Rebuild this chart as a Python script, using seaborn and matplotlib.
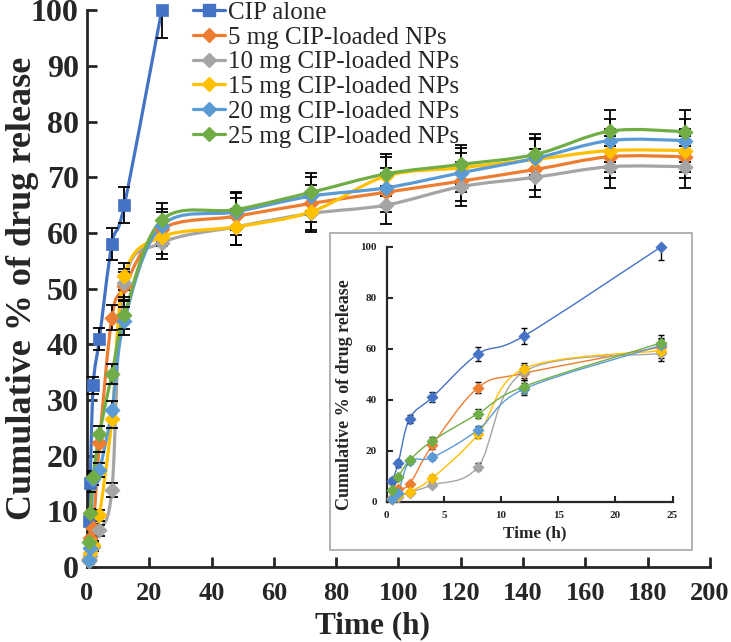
import numpy as np
import pandas as pd
import matplotlib
matplotlib.use("Agg")
import matplotlib.pyplot as plt
from matplotlib.path import Path
from matplotlib.patches import PathPatch, Rectangle
from matplotlib.lines import Line2D
import seaborn as sns

# ---------- data ----------
time_h = [0.5, 1, 2, 4, 8, 12, 24, 48, 72, 96, 120, 144, 168, 192]
series_names = ["CIP alone", "5 mg CIP-loaded NPs", "10 mg CIP-loaded NPs",
                "15 mg CIP-loaded NPs", "20 mg CIP-loaded NPs", "25 mg CIP-loaded NPs"]

cip_alone = [8.3, 15.0, 32.6, 41.0, 58.0, 65.0, 100.0]
cip_alone_err = [1.2, 1.5, 1.6, 2.0, 2.8, 3.2, 5.0]

np5 = [1.5, 5.1, 6.9, 22.2, 44.8, 50.4, 60.7, 63.0, 65.3, 67.3, 69.3, 71.4, 73.7, 73.7]
np10 = [1.0, 2.0, 3.6, 6.6, 13.8, 51.0, 58.2, 61.1, 63.5, 65.0, 68.3, 70.0, 71.9, 71.9]
np15 = [1.2, 2.5, 3.9, 9.3, 26.5, 52.2, 59.3, 61.1, 63.8, 70.2, 71.7, 73.2, 74.8, 74.8]
np20 = [1.2, 3.4, 15.8, 17.4, 28.2, 44.2, 61.3, 63.8, 66.6, 68.1, 70.8, 73.4, 76.6, 76.6]
np25 = [4.5, 9.6, 16.2, 23.9, 34.6, 45.2, 62.3, 64.2, 67.3, 70.6, 72.3, 74.1, 78.3, 78.2]

np5_err = [0.6, 0.8, 0.8, 1.5, 2.2, 2.5, 3.0, 3.3, 3.3, 3.5, 3.5, 3.7, 3.8, 3.8]
np10_err = [0.5, 0.6, 0.8, 1.0, 1.2, 2.5, 2.8, 3.2, 3.3, 3.4, 3.4, 3.6, 3.8, 3.8]
np15_err = [0.5, 0.6, 0.8, 1.0, 1.5, 2.4, 3.0, 3.2, 3.3, 3.5, 3.5, 3.6, 3.8, 3.8]
np20_err = [0.5, 0.8, 1.0, 1.2, 1.6, 2.5, 3.0, 3.3, 3.4, 3.5, 3.5, 3.7, 3.8, 3.8]
np25_err = [0.6, 0.8, 1.0, 1.5, 1.8, 2.5, 3.0, 3.2, 3.4, 3.5, 3.5, 3.7, 3.8, 3.8]

colors = ["#4472C4", "#ED7D31", "#A5A5A5", "#FFC000", "#5B9BD5", "#70AD47"]

# ---------- long table ----------
rows = []
all_vals = [cip_alone, np5, np10, np15, np20, np25]
all_errs = [cip_alone_err, np5_err, np10_err, np15_err, np20_err, np25_err]
for name, vals, errs in zip(series_names, all_vals, all_errs):
    for t, v, e in zip(time_h, vals, errs):
        rows.append({"series": name, "time": t, "release": v, "sd": e})
df = pd.DataFrame(rows)


def smooth_path(x, y):
    # excel-like smoothed line (catmull-rom as cubic bezier)
    pts = np.column_stack([np.asarray(x, float), np.asarray(y, float)])
    verts = [pts[0]]
    codes = [Path.MOVETO]
    n = len(pts)
    for i in range(n - 1):
        p0 = pts[i - 1] if i > 0 else pts[i]
        p1 = pts[i]
        p2 = pts[i + 1]
        p3 = pts[i + 2] if i + 2 < n else pts[i + 1]
        verts += [p1 + (p2 - p0) / 6.0, p2 - (p3 - p1) / 6.0, p2]
        codes += [Path.CURVE4] * 3
    return Path(verts, codes)


sns.set_style("ticks")
plt.rcParams["font.family"] = ["Liberation Serif", "DejaVu Serif"]

fig = plt.figure(figsize=(7.31, 6.42), dpi=100)
ax = fig.add_axes([0.119, 0.117, 0.852, 0.867])

# ---------- main chart ----------
for i, name in enumerate(series_names):
    d = df[df["series"] == name]
    ax.add_patch(PathPatch(smooth_path(d["time"], d["release"]), fill=False,
                           edgecolor=colors[i], lw=2.3, zorder=2, clip_on=False))
    ax.errorbar(d["time"], d["release"], yerr=d["sd"], fmt="none", ecolor="black",
                elinewidth=1.3, capsize=4, capthick=1.3, zorder=3)
    sns.scatterplot(x=d["time"], y=d["release"], ax=ax, color=colors[i],
                    marker="s" if i == 0 else "D", s=85 if i == 0 else 60,
                    edgecolor=colors[i], linewidth=0.5, zorder=4, clip_on=False,
                    legend=False)

ax.set_xlim(0, 200)
ax.set_ylim(0, 100)
ax.set_xticks(np.arange(0, 201, 20))
ax.set_yticks(np.arange(0, 101, 10))
sns.despine(ax=ax)
for sp in ["left", "bottom"]:
    ax.spines[sp].set_linewidth(2)
ax.tick_params(direction="in", length=7, width=2)
ax.tick_params(axis="x", labelsize=19, pad=11)
ax.tick_params(axis="y", labelsize=23, pad=6)
for lab in ax.get_xticklabels() + ax.get_yticklabels():
    lab.set_fontweight("bold")
ax.set_xlabel("Time (h)", fontsize=22.5, fontweight="bold", va="center")
ax.set_ylabel("Cumulative % of drug release", fontsize=26, fontweight="bold",
              va="center")
ax.xaxis.set_label_coords(0.459, -0.105)
ax.yaxis.set_label_coords(-0.104, 0.5)

handles = [Line2D([0], [0], color=c, lw=2.3, marker="s" if i == 0 else "D",
                  markersize=8 if i == 0 else 7, markeredgecolor=c)
           for i, c in enumerate(colors)]
ax.legend(handles, series_names, loc="upper left", bbox_to_anchor=(0.170, 1.016),
          frameon=False, fontsize=18, handlelength=1.3, handletextpad=0.12,
          labelspacing=0.09, borderaxespad=0, borderpad=0)

# ---------- inset ----------
fig.add_artist(Rectangle((0.4514, 0.1433), 0.4952, 0.4937, transform=fig.transFigure,
                         facecolor="white", edgecolor="#A6A6A6", lw=1.2, zorder=5))
ins = fig.add_axes([0.529, 0.2185, 0.391, 0.397], zorder=6)
ins.patch.set_alpha(0)
early = df[df["time"] <= 24]
for i, name in enumerate(series_names):
    d = early[early["series"] == name]
    ins.add_patch(PathPatch(smooth_path(d["time"], d["release"]), fill=False,
                            edgecolor=colors[i], lw=1.0, zorder=2, clip_on=False))
    ins.errorbar(d["time"], d["release"], yerr=d["sd"], fmt="none", ecolor="black",
                 elinewidth=1.0, capsize=2.5, capthick=1.0, zorder=3)
    sns.scatterplot(x=d["time"], y=d["release"], ax=ins, color=colors[i], marker="D",
                    s=32, edgecolor=colors[i], linewidth=0.5, zorder=4, clip_on=False,
                    legend=False)
ins.set_xlim(0, 25)
ins.set_ylim(0, 100)
ins.set_xticks(np.arange(0, 26, 5))
ins.set_yticks(np.arange(0, 101, 20))
sns.despine(ax=ins)
for sp in ["left", "bottom"]:
    ins.spines[sp].set_linewidth(1.6)
ins.tick_params(direction="in", length=4, width=1.5, labelsize=8, pad=7)
for lab in ins.get_xticklabels() + ins.get_yticklabels():
    lab.set_fontweight("bold")
ins.set_xlabel("Time (h)", fontsize=12.4, fontweight="bold", va="center")
ins.set_ylabel("Cumulative % of drug release", fontsize=13, fontweight="bold",
               va="center")
ins.xaxis.set_label_coords(0.517, -0.123)
ins.yaxis.set_label_coords(-0.146, 0.42)

fig.savefig("out.png", dpi=100)
